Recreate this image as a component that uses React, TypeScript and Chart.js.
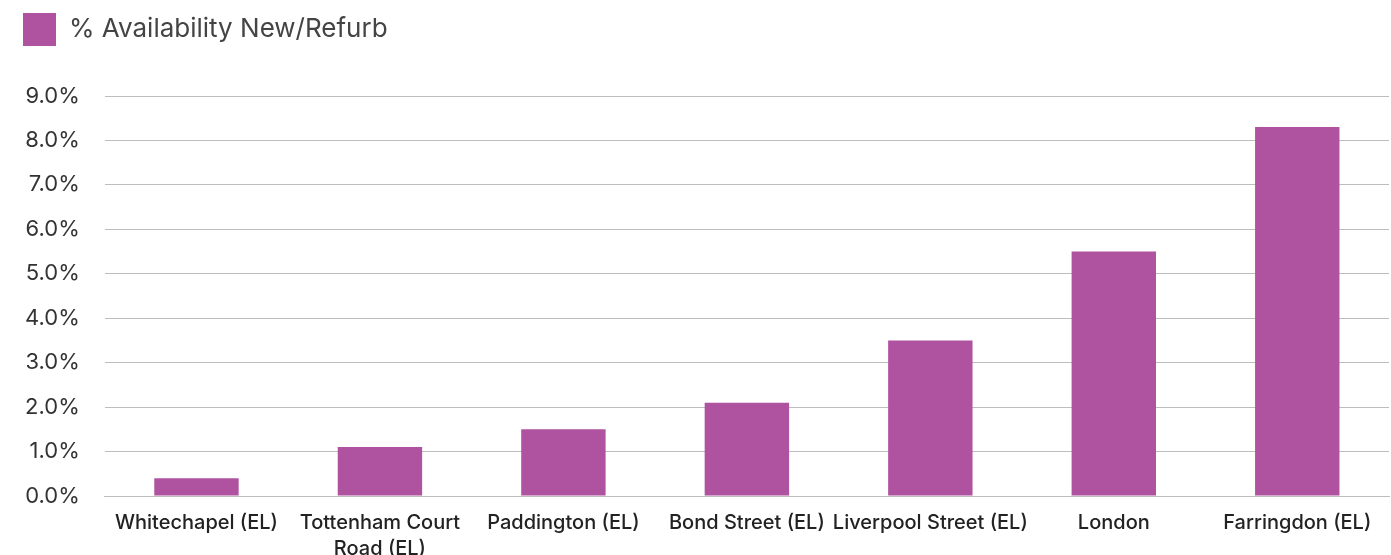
import React, { useEffect, useRef } from "react";
import { Chart, registerables } from "chart.js";

Chart.register(...registerables);

const categories: (string | string[])[] = [
  "Whitechapel (EL)",
  ["Tottenham Court", "Road (EL)"],
  "Paddington (EL)",
  "Bond Street (EL)",
  "Liverpool Street (EL)",
  "London",
  "Farringdon (EL)",
];
const availability = [0.4, 1.1, 1.5, 2.1, 3.5, 5.5, 8.3];
const seriesLabel = "% Availability New/Refurb";
const yMin = 0;
const yMax = 9;
const yStep = 1;

export default function App() {
  const ref = useRef<HTMLCanvasElement | null>(null);
  useEffect(() => {
    document.body.style.margin = "0";
    const legendGap = {
      id: "legendGap",
      beforeInit(chart: any) {
        const orig = chart.legend.fit;
        chart.legend.fit = function () {
          orig.bind(chart.legend)();
          this.height += 40;
        };
      },
    };
    const chart = new Chart(ref.current!, {
      type: "bar",
      data: {
        labels: categories,
        datasets: [
          {
            label: seriesLabel,
            data: availability,
            backgroundColor: "#AF52A0",
            borderWidth: 0,
            categoryPercentage: 1,
            barPercentage: 0.46,
          },
        ],
      },
      options: {
        animation: false,
        responsive: false,
        maintainAspectRatio: false,
        layout: { padding: { left: 0, right: 2, top: -10, bottom: -13 } },
        plugins: {
          legend: {
            display: true,
            align: "start",
            labels: {
              boxWidth: 33,
              boxHeight: 33,
              color: "#444444",
              font: { family: "Inter", size: 26 },
              padding: 23,
            },
          },
          tooltip: { enabled: false },
        },
        scales: {
          x: {
            grid: { display: false },
            border: { display: true, color: "#bdbdbd" },
            ticks: {
              color: "#222222",
              font: { family: "Inter", size: 20, weight: 500, lineHeight: 1.3 },
              maxRotation: 0,
              autoSkip: false,
              padding: 6,
            },
          },
          y: {
            min: yMin,
            max: yMax,
            grid: { color: "#bdbdbd", drawTicks: false },
            border: { display: false },
            ticks: {
              stepSize: yStep,
              color: "#333333",
              font: { family: "Inter", size: 22 },
              padding: 25,
              callback: (v: any) => Number(v).toFixed(1) + "%",
            },
          },
        },
      },
      plugins: [legendGap],
    });
    return () => chart.destroy();
  }, []);
  return <canvas ref={ref} width={1391} height={555} style={{ display: "block" }} />;
}
